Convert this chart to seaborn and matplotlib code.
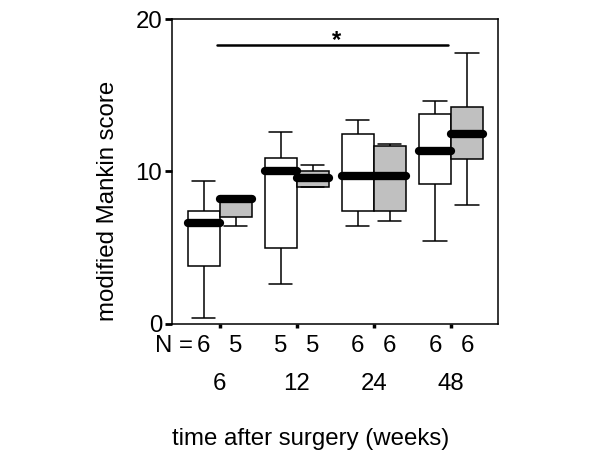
import matplotlib
matplotlib.use("Agg")
import matplotlib.pyplot as plt
import matplotlib.transforms as mtransforms
import pandas as pd
import seaborn as sns

# time points (weeks) and the two groups
weeks = ["6", "12", "24", "48"]
groups = ["group 1", "group 2"]

# N per box, same order as weeks
n_group1 = [6, 5, 6, 6]
n_group2 = [5, 5, 6, 6]

# five-number summaries: min, q1, median, q3, max
summary_group1 = [
    [0.4, 3.8, 6.6, 7.4, 9.4],
    [2.6, 5.0, 10.05, 10.9, 12.6],
    [6.4, 7.4, 9.7, 12.45, 13.4],
    [5.45, 9.2, 11.35, 13.8, 14.6],
]
summary_group2 = [
    [6.4, 7.0, 8.2, 8.2, 8.2],
    [9.0, 9.0, 9.55, 10.05, 10.45],
    [6.75, 7.4, 9.7, 11.65, 11.8],
    [7.8, 10.85, 12.45, 14.2, 17.8],
]

# significance bar between week 6 and week 48
sig_from, sig_to, sig_level = 0, 3, 18.3

rows = []
for week, s1, s2 in zip(weeks, summary_group1, summary_group2):
    for v in s1:
        rows.append({"week": week, "group": groups[0], "score": v})
    for v in s2:
        rows.append({"week": week, "group": groups[1], "score": v})
df = pd.DataFrame(rows)

sns.set_style("ticks")
plt.rcParams["font.family"] = ["Liberation Sans", "DejaVu Sans"]
plt.rcParams["font.size"] = 17.3
for key in ["text.color", "axes.labelcolor", "xtick.color", "ytick.color", "axes.edgecolor"]:
    plt.rcParams[key] = "black"

fig = plt.figure(figsize=(6, 4.68), dpi=100)
ax = fig.add_axes([0.2867, 0.3077, 0.5433, 0.6517])

box_width = 0.83
sns.boxplot(
    data=df, x="week", y="score", hue="group", order=weeks, hue_order=groups,
    palette={groups[0]: "white", groups[1]: "#c0c0c0"},
    width=box_width, gap=0, whis=(0, 100), showfliers=False,
    linecolor="black", linewidth=1.1, legend=False,
    medianprops=dict(color="black", linewidth=6, solid_capstyle="round"),
    capwidths=0.3, ax=ax,
)

ax.set_ylim(0, 20)
ax.set_xlim(-0.62, 3.61)
ax.set_yticks([0, 10, 20])
for side in ["top", "right", "bottom", "left"]:
    ax.spines[side].set_visible(True)
    ax.spines[side].set_linewidth(1.1)
ax.tick_params(axis="y", length=5, width=2, labelsize=17.3, pad=2)
ax.tick_params(axis="x", length=3, width=2.5, labelsize=17.3, pad=32)

ax.set_ylabel("modified Mankin score", fontsize=17.3, va="center")
ax.yaxis.set_label_coords(-0.196, 0.403)
ax.set_xlabel("time after surgery (weeks)", fontsize=17.3, va="baseline")
ax.xaxis.set_label_coords(0.426, -0.397)

# N counts under each box
trans = mtransforms.blended_transform_factory(ax.transData, ax.transAxes)
offset = box_width / 4
for i, (n1, n2) in enumerate(zip(n_group1, n_group2)):
    ax.text(i - offset, -0.072, str(n1), transform=trans, ha="center", va="center")
    ax.text(i + offset, -0.072, str(n2), transform=trans, ha="center", va="center")
ax.text(-offset - 0.14, -0.072, "N =", transform=trans, ha="right", va="center")

# significance marker
ax.plot([sig_from - 0.03, sig_to - 0.04], [sig_level, sig_level], color="black", lw=1.8)
ax.text((sig_from + sig_to) / 2 + 0.02, sig_level - 0.12, "*", ha="center", va="baseline",
        fontsize=17.3, fontweight="bold")

fig.savefig("out.png", dpi=100)
